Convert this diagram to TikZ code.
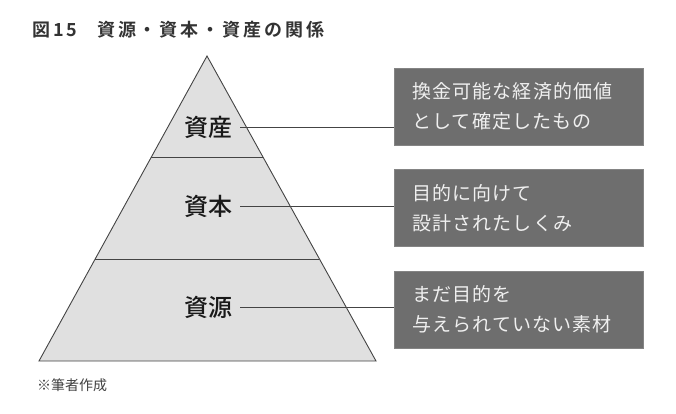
\documentclass[tikz,border=0pt]{standalone}
\usepackage{fontspec}
\newfontfamily\jpfont{Noto Sans CJK JP}
\newfontfamily\jpwide[LetterSpace=16]{Noto Sans CJK JP Bold}
\newfontfamily\jptier{Noto Sans CJK JP Medium}
\newfontfamily\jpbox[LetterSpace=6]{Noto Sans CJK JP}
\definecolor{tierfill}{HTML}{E0E0E0}
\definecolor{boxfill}{HTML}{6E6E6E}
\definecolor{linegray}{HTML}{444444}
\begin{document}
\begin{tikzpicture}[
            x = 1pt, y = -1pt,
            tier/.style = {font = \jptier\fontsize{24}{24}\selectfont, text = black!90, inner xsep = 8pt, inner ysep = 2pt},
            descbox/.style = {fill = boxfill, draw = boxfill!85!white, text = white!94!black,
                font = \jpbox\fontsize{19}{30}\selectfont, align = left, anchor = west,
                text width = 213pt, inner xsep = 18pt, minimum height = 77pt},
            link/.style = {draw = linegray, line width = 0.8pt}]
            \useasboundingbox (0,0) rectangle (676,414);
            % pyramid
            \filldraw[fill = tierfill, draw = linegray, line width = 0.9pt]
                (207,56) -- (376,361) -- (39,361) -- cycle;
            \draw[linegray, line width = 0.9pt] (151.4,157) -- (262.6,157);
            \draw[linegray, line width = 0.9pt] (95,259) -- (319,259);
            \node[tier] (asset) at (208,127) {資産};
            \node[tier] (capital) at (208,206) {資本};
            \node[tier] (source) at (208,307) {資源};
            % descriptions
            \node[descbox] (assetbox) at (394,106.5) {換金可能な経済的価値\\として確定したもの};
            \node[descbox] (capitalbox) at (394,208) {目的に向けて\\設計されたしくみ};
            \node[descbox] (sourcebox) at (394,309.5) {まだ目的を\\与えられていない素材};
            \draw[link] (asset.east) -- (asset.east -| assetbox.west);
            \draw[link] (capital.east) -- (capital.east -| capitalbox.west);
            \draw[link] (source.east) -- (source.east -| sourcebox.west);
            % title and note
            \node[anchor = west, inner sep = 0pt, font = \jpwide\fontsize{18}{18}\selectfont, text = black!80]
                (title) at (32,30) {図15\hspace{20pt}資源・資本・資産の関係};
            \node[anchor = west, inner sep = 0pt, font = \jpfont\fontsize{14}{14}\selectfont, text = black!75]
                (note) at (37,385) {※筆者作成};
\end{tikzpicture}
\end{document}
